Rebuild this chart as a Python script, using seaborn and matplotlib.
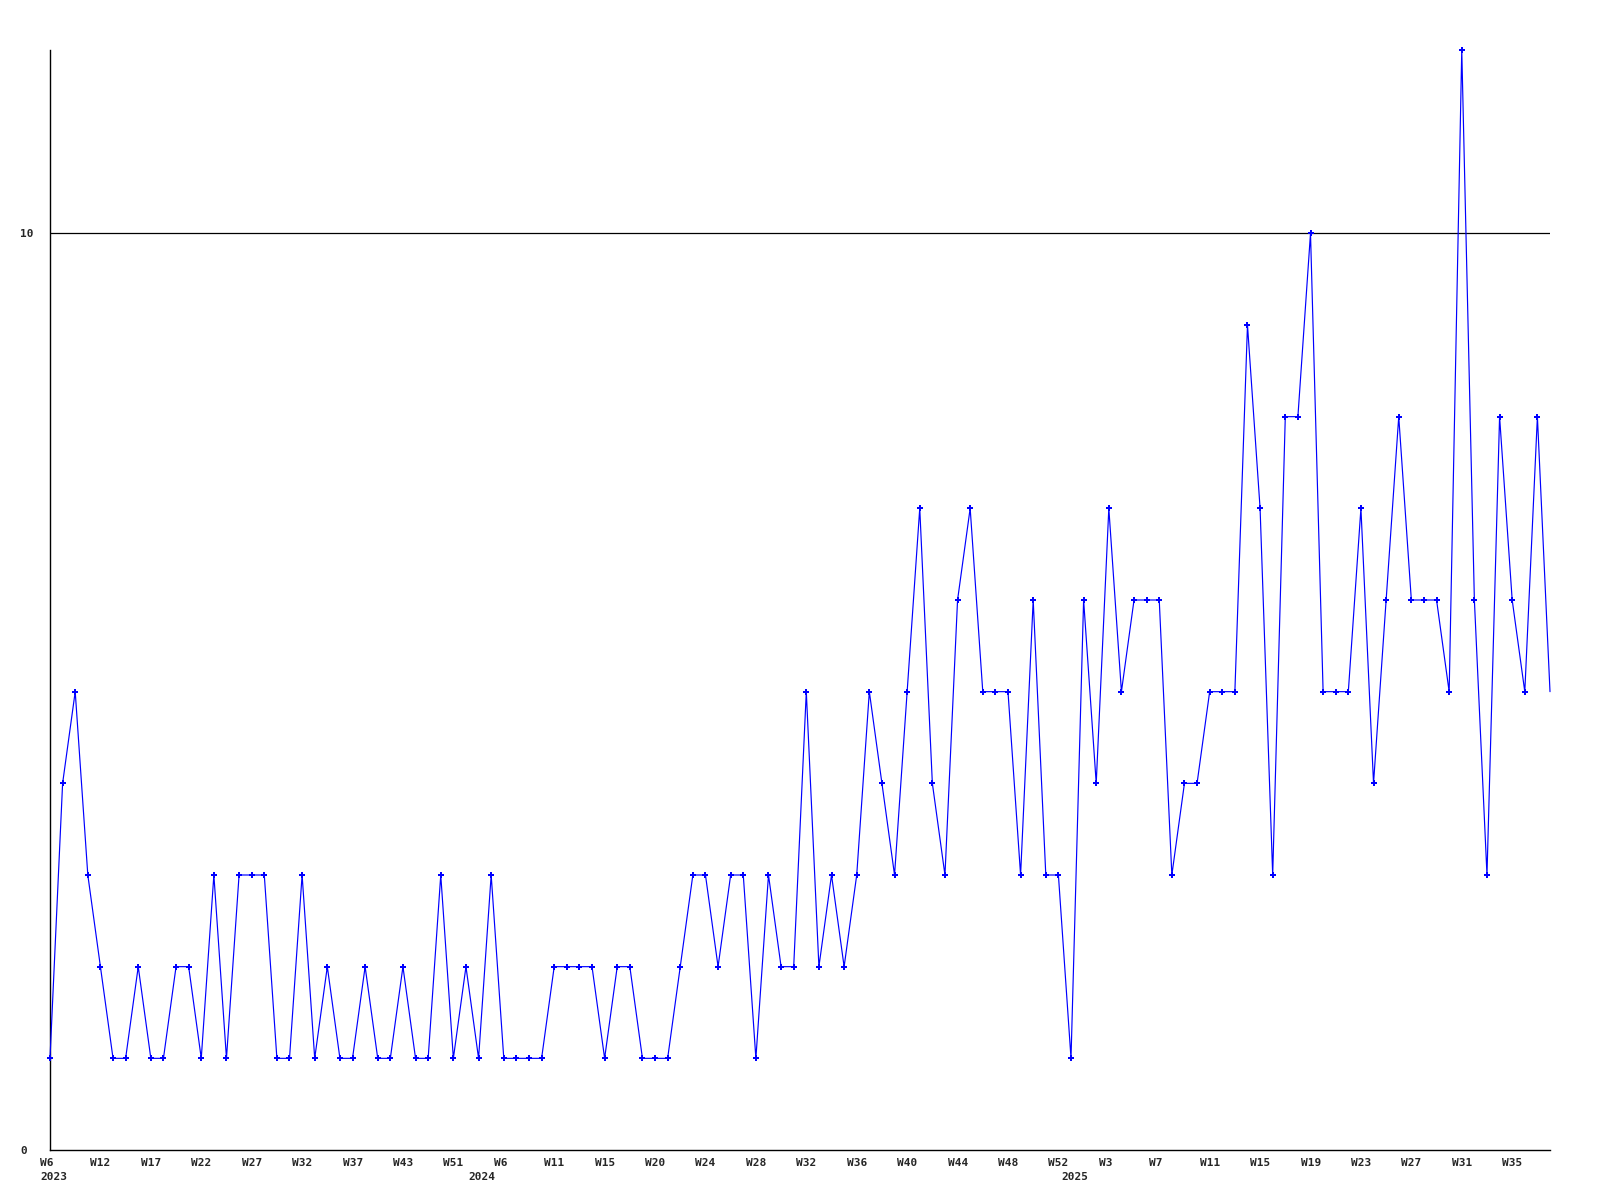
import matplotlib
matplotlib.use("Agg")
import matplotlib.pyplot as plt
import matplotlib.transforms as mtransforms
import seaborn as sns
import pandas as pd

values = [1, 4, 5, 3, 2, 1, 1, 2, 1, 1,
          2, 2, 1, 3, 1, 3, 3, 3, 1, 1,
          3, 1, 2, 1, 1, 2, 1, 1, 2, 1,
          1, 3, 1, 2, 1, 3, 1, 1, 1, 1,
          2, 2, 2, 2, 1, 2, 2, 1, 1, 1,
          2, 3, 3, 2, 3, 3, 1, 3, 2, 2,
          5, 2, 3, 2, 3, 5, 4, 3, 5, 7,
          4, 3, 6, 7, 5, 5, 5, 3, 6, 3,
          3, 1, 6, 4, 7, 5, 6, 6, 6, 3,
          4, 4, 5, 5, 5, 9, 7, 3, 8, 8,
          10, 5, 5, 5, 7, 4, 6, 8, 6, 6,
          6, 5, 12, 6, 3, 8, 6, 5, 8, 5]

tick_labels = ["W6", "W12", "W17", "W22", "W27", "W32", "W37", "W43", "W51",
               "W6", "W11", "W15", "W20", "W24", "W28", "W32", "W36", "W40",
               "W44", "W48", "W52", "W3", "W7", "W11", "W15", "W19", "W23",
               "W27", "W31", "W35"]
years = ["2023", "2024", "2025"]
year_first_point = [0, 34, 81]

df = pd.DataFrame({"idx": range(len(values)), "value": values})

sns.set_style("white")
plt.rcParams["font.family"] = ["DejaVu Sans Mono", "DejaVu Sans"]

fig = plt.figure(figsize=(16, 12), dpi=100)
ax = fig.add_axes([50 / 1600, 50 / 1200, 1500 / 1600, 1100 / 1200])

ax.axhline(10, color="black", lw=0.9, zorder=1)

sns.lineplot(data=df, x="idx", y="value", ax=ax, color="#0000ff", lw=0.85,
             marker="P", markersize=5, markeredgewidth=0, zorder=3,
             markevery=list(range(len(values) - 1)), clip_on=False)

ax.set_xlim(0, len(values) - 1)
ax.set_ylim(0, 12)
ax.set_xlabel("")
ax.set_ylabel("")

for s in ["top", "right"]:
    ax.spines[s].set_visible(False)
for s in ["left", "bottom"]:
    ax.spines[s].set_color("black")
    ax.spines[s].set_linewidth(1.0)

ax.set_yticks([0, 10])
ax.set_yticklabels(["0", "10"])
ax.tick_params(axis="y", length=0, pad=0, labelsize=8)
yoff = mtransforms.ScaledTranslation(-30 / 100, 0, fig.dpi_scale_trans)
for lab in ax.get_yticklabels():
    lab.set_ha("left")
    lab.set_fontweight("bold")
    lab.set_transform(lab.get_transform() + yoff)

ax.set_xticks(range(0, 4 * len(tick_labels), 4))
ax.set_xticklabels(tick_labels)
ax.tick_params(axis="x", length=0, pad=5.5, labelsize=8)
xoff = mtransforms.ScaledTranslation(-10 / 100, 0, fig.dpi_scale_trans)
for lab in ax.get_xticklabels():
    lab.set_ha("left")
    lab.set_fontweight("bold")
    lab.set_transform(lab.get_transform() + xoff)

trans = mtransforms.blended_transform_factory(ax.transData, ax.transAxes)
for yr, pos in zip(years, year_first_point):
    ax.text(pos, 0, yr, transform=trans + mtransforms.ScaledTranslation(
        -10 / 100, -27 / 100, fig.dpi_scale_trans),
        ha="left", va="center", fontsize=8, fontweight="bold")

ax.grid(False)
fig.savefig("out.png", dpi=100, facecolor="white")
